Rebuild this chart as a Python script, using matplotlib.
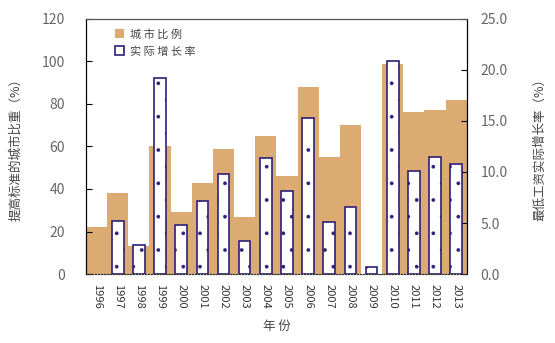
import numpy as np
import matplotlib
matplotlib.use('Agg')
import matplotlib.pyplot as plt

plt.rcParams['font.family'] = ['Noto Sans CJK SC', 'DejaVu Sans']
plt.rcParams['hatch.linewidth'] = 0.25

# data
years = ['1996', '1997', '1998', '1999', '2000', '2001', '2002', '2003', '2004',
         '2005', '2006', '2007', '2008', '2009', '2010', '2011', '2012', '2013']
city_share = [22, 38, 13, 60, 29, 43, 59, 27, 65,
              46, 88, 55, 70, 0, 99, 76, 77, 82]
real_growth = [0, 5.2, 2.8, 19.2, 4.8, 7.2, 9.8, 3.2, 11.4,
               8.1, 15.3, 5.1, 6.6, 0.7, 20.9, 10.1, 11.5, 10.8]

x = np.arange(len(years))

fig = plt.figure(figsize=(5.55, 3.43), dpi=100)
ax = fig.add_axes([0.155, 0.201, 0.686, 0.744])
ax2 = ax.twinx()

ax.bar(x, city_share, width=1.0, color='#dcab72', edgecolor='none', label='城 市 比 例', zorder=1)
mask = [v > 0 for v in real_growth]
ax2.bar(x[mask], np.array(real_growth)[mask], width=0.55, facecolor='white',
        edgecolor='#2e1f78', linewidth=1.2, hatch='.', label='实 际 增 长 率', zorder=2)

ax.set_xlim(-0.5, len(years) - 0.5)
ax.set_ylim(0, 120)
ax2.set_ylim(0, 25)
ax.set_yticks(range(0, 121, 20))
ax2.set_yticks(np.arange(0, 25.1, 5))
ax2.set_yticklabels(['%.1f' % v for v in np.arange(0, 25.1, 5)])

ax.set_xticks(x)
ax.set_xticklabels(years, rotation=-90, fontsize=8, color='#333333')
ax.tick_params(axis='x', length=0, pad=7)
ax.tick_params(axis='y', direction='in', length=4, labelsize=10, labelcolor='#666666', pad=15)
ax2.tick_params(axis='y', direction='in', length=4, labelsize=10, labelcolor='#666666', pad=10)

for a in (ax, ax2):
    a.spines['top'].set_color('#555555')
    a.spines['bottom'].set_linestyle(':')
    a.spines['bottom'].set_color('#333333')

ax.set_ylabel('提高标准的城市比重（%）', fontsize=9, color='#444444', labelpad=14)
ax2.set_ylabel('最低工资实际增长率（%）', fontsize=9, color='#444444', labelpad=18)
ax.set_xlabel('年 份', fontsize=9, color='#444444', labelpad=8)

h1, l1 = ax.get_legend_handles_labels()
h2, l2 = ax2.get_legend_handles_labels()
ax2.legend(h1 + h2, l1 + l2, loc='upper left', bbox_to_anchor=(0.05, 1.0), frameon=False,
           fontsize=8, labelcolor='#444444', handlelength=0.8, handleheight=0.8,
           handletextpad=0.5, labelspacing=0.6)

fig.savefig('out.png', dpi=100)
